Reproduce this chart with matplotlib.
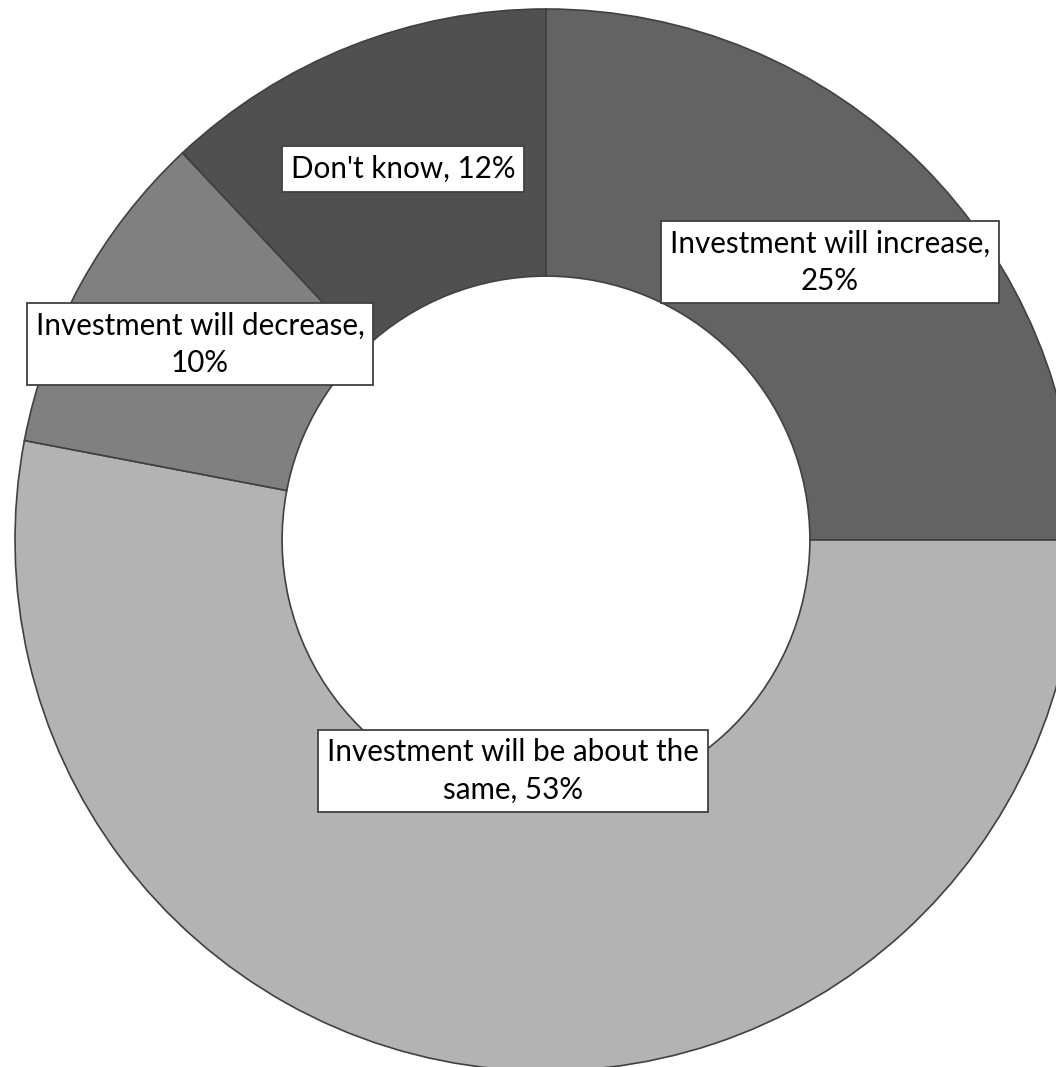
import matplotlib.pyplot as plt

labels = ["Investment will increase,\n25%",
          "Investment will be about the\nsame, 53%",
          "Investment will decrease,\n10%",
          "Don't know, 12%"]
shares = [25, 53, 10, 12]
colors = ["#636363", "#b3b3b3", "#808080", "#505050"]

# label box centres, in pixels from the top-left corner
label_pos = [(830, 262), (513, 771), (200, 344), (403, 169)]

W, H = 1056, 1067
fig = plt.figure(figsize=(W / 100, H / 100), dpi=100)
ax = fig.add_axes([0, 0, 1, 1])

cx, cy, R = 546, 540, 531
ax.pie(shares, colors=colors, startangle=90, counterclock=False,
       radius=R, center=(cx, H - cy),
       wedgeprops=dict(width=R * 0.503, edgecolor="#404040", linewidth=1.2))

for text, (px, py) in zip(labels, label_pos):
    ax.text(px, H - py, text, ha="center", va="center", multialignment="center",
            fontsize=21.3, family=["Lato", "DejaVu Sans"], color="black",
            linespacing=1.4,
            bbox=dict(boxstyle="square,pad=0.3", facecolor="white",
                      edgecolor="#404040", linewidth=1.3))

ax.set_xlim(0, W)
ax.set_ylim(0, H)
ax.set_aspect("auto")
ax.axis("off")

fig.savefig("out.png", dpi=100, facecolor="white")
